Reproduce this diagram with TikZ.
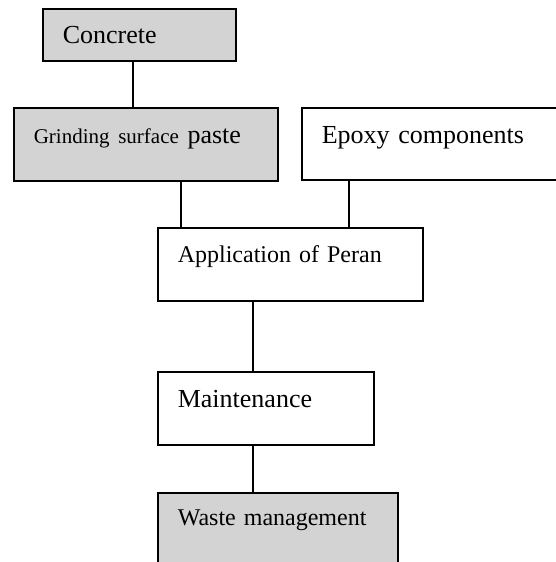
\documentclass[tikz,border=0pt]{standalone}
\usepackage{fontspec}
\setmainfont{Liberation Serif}
\usepackage{xcolor}
\usetikzlibrary{calc}
\definecolor{boxgray}{RGB}{211,211,211}
\newcommand{\bigtxt}{\fontsize{26}{30}\selectfont}
\newcommand{\midtxt}{\fontsize{24}{28}\selectfont}
\newcommand{\smalltxt}{\fontsize{21}{25}\selectfont}

\begin{document}
\begin{tikzpicture}[x=1pt, y=-1pt, line width=1.6pt,
    stage/.style={draw, anchor=north west, align=left, inner xsep=20pt, inner ysep=0pt, font=\bigtxt},
    shaded/.style={stage, fill=boxgray}]
    \useasboundingbox (0,0) rectangle (555,562);
    % boxes, top to bottom
    \node[shaded, text width=153pt, text height=35pt, text depth=17pt] (concrete) at (42,8) {Concrete};
    \node[shaded, text width=224pt, text height=36pt, text depth=37pt] (grinding) at (13,107) {{\smalltxt Grinding surface} paste};
    \node[stage, text width=245pt, text height=36pt, text depth=36pt] (epoxy) at (301,107) {Epoxy components};
    \node[stage, font=\midtxt, text width=225pt, text height=35pt, text depth=38pt] (application) at (157,227) {Application of Peran};
    \node[stage, text width=176pt, text height=36pt, text depth=37pt] (maintenance) at (157,371) {Maintenance};
    \node[shaded, font=\midtxt, text width=200pt, text height=33pt, text depth=60pt] (waste) at (157,492) {Waste management};
    % connectors
    \coordinate (c1) at ($(concrete.south west)+(91,0)$);
    \coordinate (c2) at ($(grinding.south west)+(168,0)$);
    \coordinate (c3) at ($(epoxy.south west)+(48,0)$);
    \coordinate (c4) at ($(application.south west)+(96,0)$);
    \coordinate (c5) at ($(maintenance.south west)+(96,0)$);
    \draw (c1) -- (c1 |- grinding.north);
    \draw (c2) -- (c2 |- application.north);
    \draw (c3) -- (c3 |- application.north);
    \draw (c4) -- (c4 |- maintenance.north);
    \draw (c5) -- (c5 |- waste.north);
\end{tikzpicture}
\end{document}
